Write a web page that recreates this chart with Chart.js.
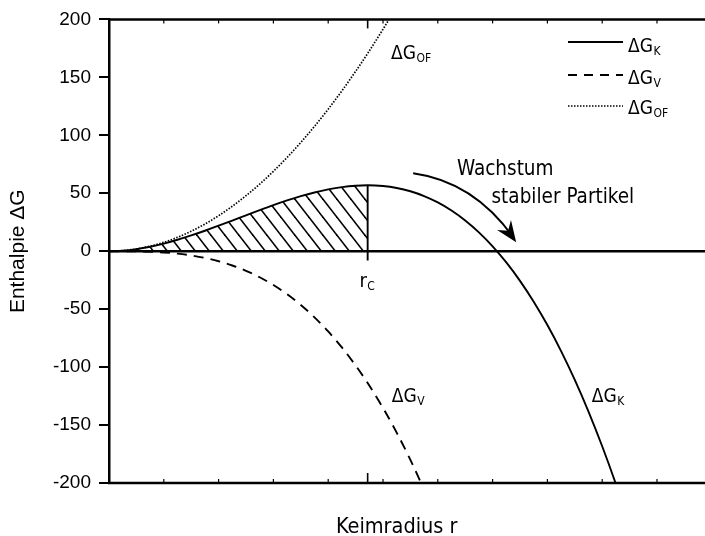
<!DOCTYPE html>
<html><head><meta charset="utf-8">
<script src="https://cdn.jsdelivr.net/npm/chart.js@4"></script>
<style>html,body{margin:0;padding:0;background:#fff;overflow:hidden}</style>
</head><body>
<canvas id="c" width="705" height="536"></canvas>
<script>
// ---- data ----
const radius = [0,0.25,0.5,0.75,1,1.25,1.5,1.75,2,2.25,2.5,2.75,3,3.25,3.5,3.75,4,4.25,4.5,4.72,5,5.25,5.5,5.75,6,6.25,6.5,6.75,7,7.25,7.5,7.75,8,8.25,8.5,8.75,9,9.25,9.5];
const dGK = [0,0.46,1.78,3.85,6.58,9.86,13.59,17.66,21.98,26.46,30.97,35.43,39.73,43.77,47.45,50.66,53.31,55.30,56.52,56.89,56.25,54.56,51.70,47.56,42.05,35.06,26.50,16.24,4.21,-9.70,-25.59,-43.57,-63.74,-86.20,-111.04,-138.38,-168.32,-200.94,-236.36];
const dGV = [0,-0.02,-0.14,-0.46,-1.08,-2.11,-3.65,-5.80,-8.66,-12.32,-16.91,-22.50,-29.21,-37.14,-46.39,-57.06,-69.25,-83.06,-98.60,-113.77,-135.25,-156.57,-180.02,-205.70,null,null,null,null,null,null,null,null,null,null,null,null,null,null,null];
const dGOF = [0,0.48,1.92,4.31,7.66,11.97,17.24,23.46,30.64,38.78,47.88,57.93,68.94,80.91,93.84,107.72,122.56,138.36,155.12,170.66,191.5,211.13,null,null,null,null,null,null,null,null,null,null,null,null,null,null,null,null,null];
const rC = 4.72;
const rCPeak = 56.89;
const yTickMin = -200, yTickMax = 200, yTickStep = 50;
const xMin = 0, xMax = 10.876;
const minorTicks = [1,2,3,4,5,6,7,8,9,10];
const legendItems = [
  {main:'ΔG', sub:'K', dash:[]},
  {main:'ΔG', sub:'V', dash:[9,7]},
  {main:'ΔG', sub:'OF', dash:[1.5,1.5]}
];

// ---- helpers ----
const pts = arr => radius.map((r,i)=>({x:r, y:arr[i]}));
function hatchPattern(){
  const s=14, h=18, m=h/s;
  const c=document.createElement('canvas'); c.width=s; c.height=h;
  const g=c.getContext('2d');
  g.strokeStyle='#000'; g.lineWidth=1.6;
  for (const dx of [-s,0,s]) {
    g.beginPath(); g.moveTo(dx-3, -3*m); g.lineTo(dx+s+3, h+3*m); g.stroke();
  }
  return document.createElement('canvas').getContext('2d').createPattern(c,'repeat');
}
const FN = '"DejaVu Sans Condensed","DejaVu Sans",sans-serif';
const FA = '"Liberation Sans",Arial,sans-serif';
function subText(ctx, main, sub, x, y, size, subSize){
  ctx.font = size+'px '+FN;
  ctx.fillText(main, x, y);
  const w = ctx.measureText(main).width;
  ctx.font = subSize+'px '+FN;
  ctx.fillText(sub, x+w+0.5, y+3);
}

const decor = {
  id:'decor',
  afterDatasetsDraw(chart){
    const ctx=chart.ctx, xs=chart.scales.x, ys=chart.scales.y, ca=chart.chartArea;
    const X=v=>xs.getPixelForValue(v), Y=v=>ys.getPixelForValue(v);
    ctx.save();
    ctx.strokeStyle='#000'; ctx.fillStyle='#000';
    // frame and zero line
    ctx.lineWidth=2.5; ctx.setLineDash([]);
    for (const v of [yTickMax, 0, yTickMin]) {
      ctx.beginPath(); ctx.moveTo(ca.left-1, Y(v)); ctx.lineTo(ca.right, Y(v)); ctx.stroke();
    }
    // minor ticks
    ctx.lineWidth=1.2;
    for (const k of minorTicks) {
      const px=X(k);
      ctx.beginPath(); ctx.moveTo(px, Y(yTickMin)); ctx.lineTo(px, Y(yTickMin)-4); ctx.stroke();
      ctx.beginPath(); ctx.moveTo(px, Y(yTickMax)); ctx.lineTo(px, Y(yTickMax)+4); ctx.stroke();
    }
    // rC ticks
    ctx.lineWidth=1.6;
    ctx.beginPath(); ctx.moveTo(X(rC), Y(yTickMin)); ctx.lineTo(X(rC), Y(yTickMin)-10); ctx.stroke();
    ctx.beginPath(); ctx.moveTo(X(rC), Y(yTickMax)); ctx.lineTo(X(rC), Y(yTickMax)+9); ctx.stroke();

    // arrow
    const p0={x:X(5.55),y:Y(67.2)}, pc={x:X(6.65),y:Y(60)}, p2={x:X(7.43),y:Y(7.8)};
    ctx.lineWidth=1.9;
    ctx.beginPath(); ctx.moveTo(p0.x,p0.y); ctx.quadraticCurveTo(pc.x,pc.y,p2.x-3,p2.y-5); ctx.stroke();
    const ang=Math.atan2(p2.y-pc.y, p2.x-pc.x);
    ctx.save(); ctx.translate(p2.x,p2.y); ctx.rotate(ang);
    ctx.beginPath(); ctx.moveTo(0,0); ctx.lineTo(-21,-8.5); ctx.lineTo(-14,0); ctx.lineTo(-21,8.5); ctx.closePath(); ctx.fill();
    ctx.restore();

    // annotation texts
    ctx.textAlign='left'; ctx.textBaseline='alphabetic';
    subText(ctx,'ΔG','OF', X(5.146), Y(165.5), 19, 12);
    subText(ctx,'ΔG','V', X(5.16), Y(-129.9), 19, 12);
    subText(ctx,'ΔG','K', X(8.81), Y(-129.9), 19, 12);
    subText(ctx,'r','C', X(4.57), Y(-30.8), 20, 12);
    ctx.font='20.5px '+FN;
    ctx.fillText('Wachstum', X(6.35), Y(65.5));
    ctx.fillText('stabiler Partikel', X(6.98), Y(41.4));

    // legend
    const lx0=ca.left+459, lx1=ca.left+514, ly=[42,75,106], tb=[51.5,83.5,113.5];
    legendItems.forEach((it,i)=>{
      ctx.lineWidth = i===2?1.6:1.8; ctx.setLineDash(it.dash);
      ctx.beginPath(); ctx.moveTo(lx0, ly[i]); ctx.lineTo(lx1, ly[i]); ctx.stroke();
      ctx.setLineDash([]);
      subText(ctx, it.main, it.sub, ca.left+519, tb[i], 19, 12);
    });

    // axis titles
    ctx.font='21px '+FA; ctx.textAlign='center';
    ctx.save(); ctx.translate(24, (ca.top+ca.bottom)/2); ctx.rotate(-Math.PI/2);
    ctx.fillText('Enthalpie ΔG', 0, 0); ctx.restore();
    ctx.font='21.5px '+FN;
    ctx.fillText('Keimradius r', X(5.25), 533);
    ctx.restore();
  }
};

const hatchPts = pts(dGK).filter(p=>p.x<=rC);
new Chart(document.getElementById('c'), {
  type:'line',
  data:{datasets:[
    {data:hatchPts, borderWidth:0, pointRadius:0, fill:'origin', backgroundColor:hatchPattern(), cubicInterpolationMode:'monotone'},
    {data:pts(dGK), borderColor:'#000', borderWidth:1.9, pointRadius:0, fill:false, cubicInterpolationMode:'monotone'},
    {data:pts(dGV), borderColor:'#000', borderWidth:1.9, borderDash:[10,7], pointRadius:0, fill:false, cubicInterpolationMode:'monotone'},
    {data:pts(dGOF), borderColor:'#000', borderWidth:1.7, borderDash:[1.5,1.5], pointRadius:0, fill:false, cubicInterpolationMode:'monotone'},
    {data:[{x:rC,y:rCPeak},{x:rC,y:-8}], borderColor:'#000', borderWidth:1.9, pointRadius:0, fill:false}
  ]},
  options:{
    responsive:false, animation:false, devicePixelRatio:1,
    layout:{padding:{left:0,right:0,top:19,bottom:53}},
    plugins:{legend:{display:false}, tooltip:{enabled:false}},
    scales:{
      x:{type:'linear', min:xMin, max:xMax, display:false},
      y:{type:'linear', min:yTickMin, max:yTickMax,
         ticks:{stepSize:yTickStep, color:'#000', font:{family:FA, size:19}, padding:8},
         grid:{drawOnChartArea:false, tickLength:10, color:'#000', lineWidth:2},
         border:{color:'#000', width:2.5},
         afterFit(s){ s.width=109; }}
    }
  },
  plugins:[decor]
});
</script>
</body></html>
